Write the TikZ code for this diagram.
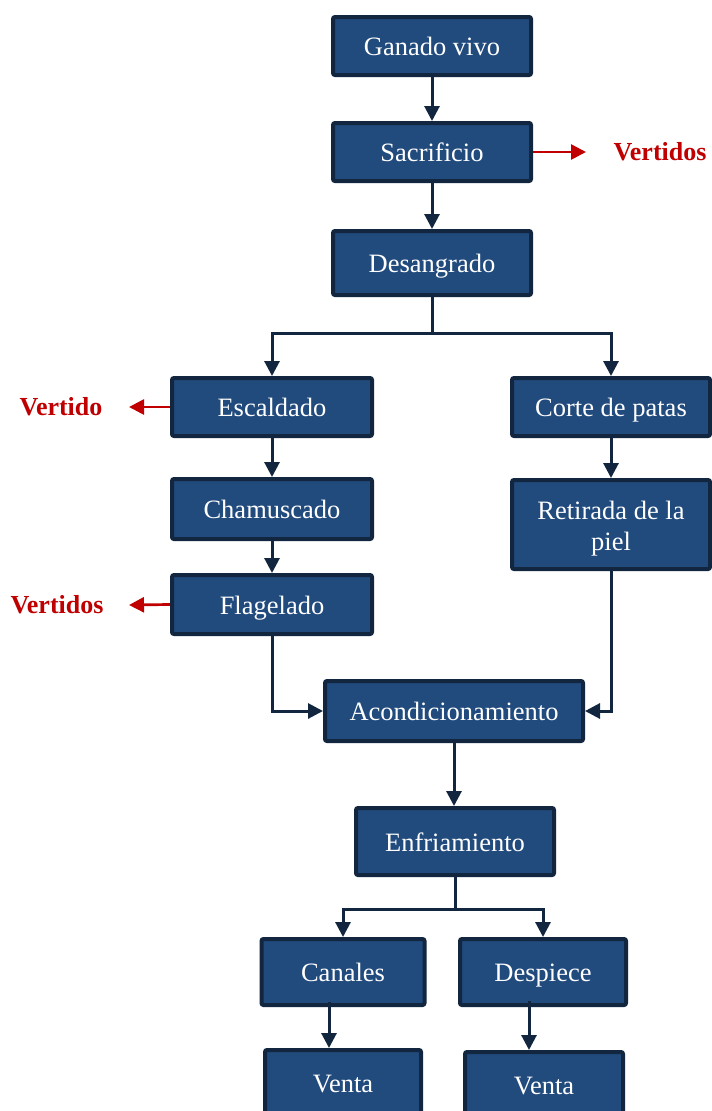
\documentclass[tikz,border=0pt]{standalone}
\usepackage{fontspec}
\setmainfont{Liberation Serif}
\usetikzlibrary{arrows.meta}
\definecolor{boxfill}{HTML}{214A7D}
\definecolor{boxline}{HTML}{12263F}
\definecolor{outred}{HTML}{C00000}
\tikzset{
  stepbox/.style={draw=boxline, fill=boxfill, line width=4pt, rounded corners=2pt,
    text=white, font=\fontsize{26.5}{31}\selectfont, align=center, inner sep=2pt,
    text height=21.5pt, text depth=2.5pt},
  twoline/.style={text height=20pt, text depth=31pt},
  flow/.style={draw=boxline, line width=3pt,
    -{Triangle[length=15pt,width=15pt]}},
  flowline/.style={draw=boxline, line width=3pt},
  outflow/.style={draw=outred, line width=2.7pt,
    -{Triangle[length=15pt,width=15pt]}},
  outlabel/.style={text=outred, font=\fontsize{26}{30}\selectfont\bfseries}
}
\begin{document}
\begin{tikzpicture}[x=1pt,y=-1pt]
\useasboundingbox (0,0) rectangle (712,1111);
\clip (0,0) rectangle (712,1111);

% process steps
\node[stepbox, minimum width=198pt, minimum height=58pt] (gan) at (432,46) {Ganado vivo};
\node[stepbox, minimum width=198pt, minimum height=58pt] (sac) at (432,152) {Sacrificio};
\node[stepbox, minimum width=198pt, minimum height=64pt] (des) at (432,263) {Desangrado};
\node[stepbox, minimum width=200pt, minimum height=58pt] (esc) at (272,407) {Escaldado};
\node[stepbox, minimum width=198pt, minimum height=58pt] (cor) at (611,407) {Corte de patas};
\node[stepbox, minimum width=200pt, minimum height=60pt] (cha) at (272,509) {Chamuscado};
\node[stepbox, twoline, minimum width=198pt, minimum height=89pt] (ret) at (611,524.5)
  {\begin{tabular}[t]{@{}c@{}}Retirada de la\\piel\end{tabular}};
\node[stepbox, minimum width=200pt, minimum height=59pt] (fla) at (272,604.5) {Flagelado};
\node[stepbox, minimum width=258pt, minimum height=60pt] (aco) at (454,711) {Acondicionamiento};
\node[stepbox, minimum width=198pt, minimum height=67pt] (enf) at (455,841.5) {Enfriamiento};
\node[stepbox, minimum width=163pt, minimum height=66pt] (can) at (343,972) {Canales};
\node[stepbox, minimum width=166pt, minimum height=66pt] (desp) at (543,972) {Despiece};
\node[stepbox, minimum width=156pt, minimum height=66pt] (ven1) at (343,1083) {Venta};
\node[stepbox, minimum width=158pt, minimum height=66pt] (ven2) at (544,1085) {Venta};

% discharges
\node[outlabel] (vt1) at (660,152) {Vertidos};
\node[outlabel] (vt2) at (61,407) {Vertido};
\node[outlabel] (vt3) at (57,605) {Vertidos};
\coordinate (vt1in) at (586,152);
\coordinate (vt2in) at (129,407);
\coordinate (vt3in) at (129,605);

% branch points
\coordinate (split1) at (432,333);
\coordinate (split2) at (455,909);

% main flow
\draw[flow] (gan) -- (sac);
\draw[flow] (sac) -- (des);
\draw[flowline] (des.south) -- (split1);
\draw[flow] (split1) -| (esc.north);
\draw[flow] (split1) -| (cor.north);
\draw[flow] (esc) -- (cha);
\draw[flow] (cha) -- (fla);
\draw[flow] (cor) -- (ret);
\draw[flow] (fla.south) |- (aco.west);
\draw[flow] (ret.south) |- (aco.east);
\draw[flow] (aco.south) -- (aco.south |- enf.north);
\draw[flowline] (enf.south) -- (split2);
\draw[flow] (split2) -| (can.north);
\draw[flow] (split2) -| (desp.north);
\draw[flow] ([xshift=-14pt,yshift=5pt]can.south) -- ([xshift=-14pt]can.south |- ven1.north);
\draw[flow] ([xshift=-14pt,yshift=6pt]desp.south) -- ([xshift=-14pt]desp.south |- ven2.north);

% discharge arrows
\draw[outflow] (sac.east) -- (vt1in);
\draw[outflow] (esc.west) -- (vt2in);
\draw[outflow] (fla.west) -- (vt3in);
\end{tikzpicture}
\end{document}
